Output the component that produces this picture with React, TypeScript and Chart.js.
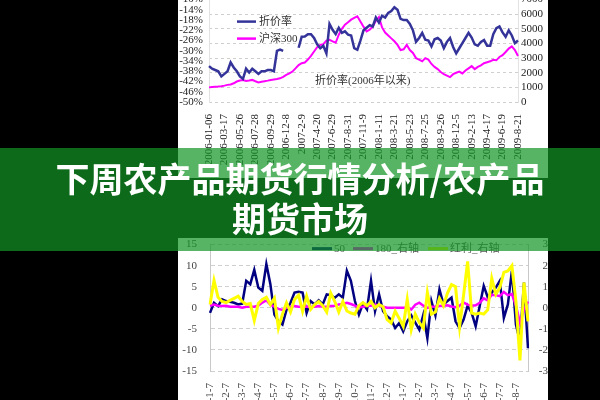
import React, { useEffect, useRef } from 'react';
import { Chart, registerables } from 'chart.js';
Chart.register(...registerables);

const SERIF = '"Liberation Serif", "Times New Roman", "Noto Sans CJK SC", serif';

// ---------- top chart data ----------
const topTickDates = ['2006-01-06','2006-03-17','2006-05-26','2006-07-28','2006-09-29','2006-12-8','2007-2-9','2007-4-20','2007-6-29','2007-8-31','2007-11-9','2008-1-11','2008-3-21','2008-5-23','2008-7-25','2008-9-26','2008-12-5','2009-2-13','2009-4-17','2009-6-19','2009-8-21'];
const topSeriesNames = ['折价率', '沪深300'];
const topNote = '折价率(2006年以来)';
const discountRate: (number | null)[] = [
  -36,-37,-37.5,-38,-40,-39,-38,-34.5,-36.5,-38,
  -40,-41,-37,-38.5,-37,-38,-39,-38,-38,-37.5,
  -37.5,-38,-30,-29.5,-30,null,null,null,null,-28.8,
  -24.5,-24.4,-23.5,-23.5,-25,-27.5,-29,-28,-31,-19.5,
  -21.8,-23.5,-21,-23,-22.4,-23.7,-24,-29,-29.6,-26,
  -22,-21,-20,-20.5,-17,-19,-16.3,-17,-15.2,-14.5,
  -13,-14,-17.5,-18,-18,-19.5,-22,-26.5,-25,-23,
  -25.7,-26,-28.3,-25.5,-25,-26,-29,-26.5,-25,-28.5,
  -31,-29,-27,-25,-23,-24.8,-27.5,-28,-26.5,-25.8,
  -28,-28,-23.5,-21.2,-20.5,-22.8,-24.5,-22,-24,-27,
  -26,
];
const hs300 = [
  1000,1030,1050,1060,1080,1120,1170,1200,1280,1400,
  1470,1500,1440,1470,1510,1420,1340,1380,1420,1460,
  1510,1540,1570,1620,1720,1850,1950,2080,2300,2520,
  2650,2700,2900,3150,3450,3750,3900,3950,4200,4250,
  4150,4050,4600,5000,5290,5450,5630,5750,5860,5500,
  5150,4830,4950,5150,5550,5800,5100,4750,4550,4350,
  4150,3900,3550,3600,3900,3550,3350,3000,2900,2780,
  3000,2900,2600,2400,2250,2050,1900,1800,1700,1900,
  2000,2080,1950,2150,2300,2450,2250,2400,2500,2650,
  2720,2780,2880,2850,3080,3200,3420,3650,3800,3550,
  3150,
];

// ---------- bottom chart data ----------
const bottomTickDates = ['2008-1-7','2008-2-7','2008-3-7','2008-4-7','2008-5-7','2008-6-7','2008-7-7','2008-8-7','2008-9-7','2008-10-7','2008-11-7','2008-12-7','2009-1-7','2009-2-7','2009-3-7','2009-4-7','2009-5-7','2009-6-7','2009-7-7','2009-8-7'];
const bottomSeriesNames = ['50', '180_右轴', '红利_右轴'];
const idx50 = [
  -1.2,1.2,0.4,2,1.6,1.4,1.2,0.8,1.0,6.4,
  5.6,9,4.8,4,10.4,5.6,-1.6,-3.2,-4,-0.5,
  1.2,3.6,3.8,3.6,-1.2,1.6,0.8,1.8,0.8,3.2,
  3.0,2.4,3.2,2.4,8.8,6.4,1.6,-1.6,1.0,-0.4,
  6.4,-0.8,3.2,-0.8,-2,-2.8,-4.8,-3.6,-5.6,-3.2,
  -1.8,-3.5,-5.2,-1.6,-7.2,1.6,-1.8,4.4,0.8,1.6,
  2.4,-3.2,-4.8,-2.8,0.5,-1.2,-4.4,0.4,5.2,2.5,
  3.6,4.8,6.4,-2.4,0.8,8.8,-4,-8,6,-9.6,
];
const idx180 = [
  0.1,0.15,0.1,0.08,0.1,0.05,0.05,0.05,0.0,0.05,
  0.05,0.05,0.1,0.25,0.35,0.15,0.05,-0.05,-0.1,0.0,
  0.05,0.08,0.05,0.05,0.06,0.05,0.05,0.08,0.05,0.05,
  0.08,0.1,0.16,0.18,0.24,0.18,0.1,0.02,0.05,0.1,
  0.1,0.15,0.1,0.05,0.0,0.0,0.0,0.0,0.0,0.0,
  -0.08,0.15,0.24,0.1,0.0,0.05,0.06,0.08,0.1,0.12,
  0.06,0.03,0.1,0.25,0.15,0.1,0.12,0.24,0.45,0.35,
  0.62,0.6,0.55,0.75,0.6,0.65,0.1,-0.7,-0.1,0.3,
];
const idxDividend = [
  0.16,1.3,0.5,0.3,0.25,0.35,0.45,0.55,0.3,0.16,
  0.2,-0.6,0.2,0.4,0.5,0.15,0.45,-0.96,-0.3,0.24,
  -0.2,0.4,0.6,-0.16,0.55,-0.08,0.15,0.3,0.1,-0.2,
  0.7,0.3,-0.2,0.3,-0.15,-0.25,-0.3,0.1,0.25,0.1,
  0.3,0.0,0.15,0.05,-0.56,-0.72,-0.16,-0.5,-0.88,0.4,
  -1.04,-0.3,-0.7,-0.96,0.72,-0.3,-0.2,0.45,0.1,0.7,
  1.1,1.0,-0.9,0.6,2.2,-0.25,-0.3,-0.25,-0.3,-0.1,
  1.4,0.64,0.96,1.68,1.75,2.0,0.3,-2.5,1.2,-0.64,
];

const bannerLine1 = '下周农产品期货行情分析/农产品';
const bannerLine2 = '期货市场';

const topLabels = discountRate.map((_, i) => (i % 5 === 0 ? topTickDates[i / 5] : ''));
const bottomLabels = idx50.map((_, i) => (i % 4 === 0 ? bottomTickDates[i / 4] : ''));

const hideEmpty = function (this: any, value: any) {
  const l = this.getLabelForValue(value);
  return l === '' ? null : l;
};
const plain = (v: any) => String(v);

const topDecor = {
  id: 'topDecor',
  afterDatasetsDraw(chart: any) {
    const { ctx, chartArea: ca } = chart;
    ctx.save();
    ctx.font = '11px ' + SERIF;
    ctx.textBaseline = 'middle';
    ctx.textAlign = 'left';
    chart.data.datasets.forEach((d: any, k: number) => {
      const y = ca.top + (k === 0 ? 22 : 39);
      ctx.strokeStyle = d.borderColor;
      ctx.lineWidth = 2.5;
      ctx.beginPath();
      ctx.moveTo(ca.left + 28, y);
      ctx.lineTo(ca.left + 47, y);
      ctx.stroke();
      ctx.fillStyle = '#333';
      ctx.fillText(d.label, ca.left + 50, y + 1);
    });
    ctx.fillStyle = '#333';
    ctx.fillText(topNote, ca.left + 106, ca.top + 82);
    ctx.restore();
  },
};

const bottomDecor = {
  id: 'bottomDecor',
  afterDatasetsDraw(chart: any) {
    const { ctx, chartArea: ca } = chart;
    const offs = [102, 143, 218];
    ctx.save();
    ctx.font = '11px ' + SERIF;
    ctx.textBaseline = 'middle';
    ctx.textAlign = 'left';
    const byName: any = {};
    chart.data.datasets.forEach((d: any) => (byName[d.label] = d));
    bottomSeriesNames.forEach((name, k) => {
      const d = byName[name];
      const x = ca.left + offs[k];
      const y = ca.top + 4;
      ctx.strokeStyle = d.borderColor;
      ctx.lineWidth = 3;
      ctx.beginPath();
      ctx.moveTo(x, y);
      ctx.lineTo(x + 20, y);
      ctx.stroke();
      ctx.fillStyle = '#555';
      ctx.fillText(name, x + 22, y + 1);
    });
    ctx.restore();
  },
};

export default function App() {
  const topRef = useRef<HTMLCanvasElement>(null);
  const botRef = useRef<HTMLCanvasElement>(null);

  useEffect(() => {
    const tickFont = { family: SERIF, size: 11 };
    const clear = 'rgba(0,0,0,0)';
    const top = new Chart(topRef.current as HTMLCanvasElement, {
      type: 'line',
      data: {
        labels: topLabels,
        datasets: [
          { label: topSeriesNames[0], data: discountRate, yAxisID: 'yL', borderColor: '#333399', borderWidth: 2.5, pointRadius: 0, spanGaps: false, order: 0 },
          { label: topSeriesNames[1], data: hs300, yAxisID: 'yR', borderColor: '#ff00ff', borderWidth: 2, pointRadius: 0, order: 1 },
        ],
      },
      options: {
        responsive: false,
        animation: false,
        layout: { padding: 0 },
        plugins: { legend: { display: false }, tooltip: { enabled: false } },
        scales: {
          x: {
            grid: { display: false },
            border: { display: false },
            ticks: { autoSkip: false, maxRotation: 90, minRotation: 90, padding: 4, font: tickFont, color: '#222', callback: hideEmpty },
            afterFit: (s: any) => { s.height = 76; },
          },
          yL: {
            position: 'left', min: -50, max: -10,
            ticks: { autoSkip: false, stepSize: 4, callback: (v: any) => v + '%', padding: 0, font: tickFont, color: '#222' },
            grid: { color: clear, drawTicks: true, tickLength: 6, tickColor: clear },
            border: { display: true, color: '#e2e2e2' },
            afterFit: (s: any) => { s.width = 31; },
          },
          yR: {
            position: 'right', min: 0, max: 7000,
            ticks: { autoSkip: false, stepSize: 1000, padding: 0, font: tickFont, color: '#222', callback: plain },
            grid: { color: '#cfcfcf', drawTicks: true, tickLength: 3, tickColor: clear },
            border: { display: true, color: '#e2e2e2', dash: [3, 3] },
            afterFit: (s: any) => { s.width = 30; },
          },
        },
      } as any,
      plugins: [topDecor],
    });

    const bot = new Chart(botRef.current as HTMLCanvasElement, {
      type: 'line',
      data: {
        labels: bottomLabels,
        datasets: [
          { label: bottomSeriesNames[0], data: idx50, yAxisID: 'yL', borderColor: '#000080', borderWidth: 2.5, pointRadius: 0, order: 2 },
          { label: bottomSeriesNames[1], data: idx180, yAxisID: 'yR', borderColor: '#ff00ff', borderWidth: 2.5, pointRadius: 0, order: 1 },
          { label: bottomSeriesNames[2], data: idxDividend, yAxisID: 'yR', borderColor: '#ffff00', borderWidth: 3, pointRadius: 0, order: 0 },
        ],
      },
      options: {
        responsive: false,
        animation: false,
        layout: { padding: 0 },
        plugins: { legend: { display: false }, tooltip: { enabled: false } },
        scales: {
          x: {
            grid: { display: false },
            border: { display: false },
            ticks: { autoSkip: false, maxRotation: 90, minRotation: 90, padding: 4, font: tickFont, color: '#444', callback: hideEmpty },
            afterFit: (s: any) => { s.height = 37; },
          },
          yL: {
            position: 'left', min: -15, max: 15,
            ticks: { autoSkip: false, stepSize: 5, padding: 0, font: tickFont, color: '#444' },
            grid: { color: '#cfcfcf', drawTicks: true, tickLength: 13, tickColor: clear },
            border: { display: true, color: '#c8c8c8', dash: [4, 3] },
            afterFit: (s: any) => { s.width = 32; },
          },
          yR: {
            position: 'right', min: -3, max: 3,
            ticks: { autoSkip: false, stepSize: 1, padding: 0, crossAlign: 'far', font: tickFont, color: '#444' },
            grid: { display: false, drawTicks: true, tickLength: 2, tickColor: clear },
            border: { display: true, color: '#c8c8c8' },
            afterFit: (s: any) => { s.width = 20; },
          },
        },
      } as any,
      plugins: [bottomDecor],
    });

    return () => {
      top.destroy();
      bot.destroy();
    };
  }, []);

  return (
    <div style={{ position: 'fixed', left: 0, top: 0, width: 600, height: 400, background: '#000', overflow: 'hidden' }}>
      <div style={{ position: 'absolute', left: 178, top: -7, width: 370, height: 185, background: '#fff' }}>
        <canvas ref={topRef} width={370} height={185} style={{ display: 'block', width: 370, height: 185 }} />
      </div>
      <div style={{ position: 'absolute', left: 178, top: 238, width: 370, height: 170, background: '#fff' }}>
        <canvas ref={botRef} width={370} height={170} style={{ display: 'block', width: 370, height: 170 }} />
      </div>
      <div style={{ position: 'absolute', left: 0, top: 148, width: 600, height: 103, background: 'rgba(18,150,36,0.71)' }} />
      <div style={{ position: 'absolute', left: 0, top: 158, width: 600, textAlign: 'center', color: '#fff', fontFamily: '"Noto Sans CJK SC", sans-serif', fontWeight: 700, fontSize: 34, lineHeight: '40px', whiteSpace: 'nowrap' }}>
        <div>{bannerLine1}</div>
        <div>{bannerLine2}</div>
      </div>
    </div>
  );
}
